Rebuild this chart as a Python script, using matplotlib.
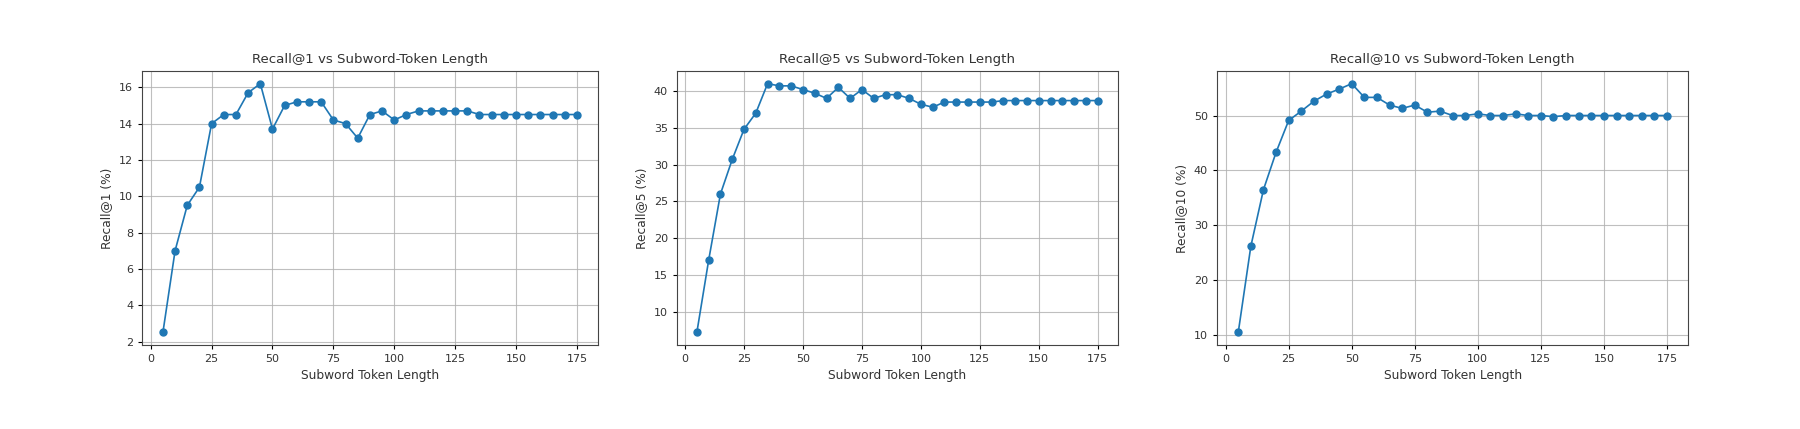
import matplotlib
matplotlib.use("Agg")
import matplotlib.pyplot as plt

token_lengths = list(range(5, 180, 5))

recall_at_1 = [2.5, 7.0, 9.5, 10.5, 14.0, 14.5, 14.5, 15.7, 16.2, 13.7,
               15.0, 15.2, 15.2, 15.2, 14.2, 14.0, 13.2, 14.5, 14.7, 14.2,
               14.5, 14.7, 14.7, 14.7, 14.7, 14.7, 14.5, 14.5, 14.5, 14.5,
               14.5, 14.5, 14.5, 14.5, 14.5]

recall_at_5 = [7.2, 17.0, 26.0, 30.7, 34.8, 37.0, 41.0, 40.7, 40.7, 40.2,
               39.7, 39.0, 40.5, 39.0, 40.2, 39.0, 39.5, 39.5, 39.0, 38.2,
               37.8, 38.5, 38.5, 38.5, 38.5, 38.5, 38.7, 38.7, 38.7, 38.7,
               38.7, 38.7, 38.7, 38.7, 38.7]

recall_at_10 = [10.5, 26.2, 36.5, 43.3, 49.1, 50.8, 52.6, 53.9, 54.8, 55.8,
                53.3, 53.3, 51.9, 51.3, 51.9, 50.6, 50.8, 50.0, 50.0, 50.3,
                50.0, 50.0, 50.3, 50.0, 50.0, 49.8, 50.0, 50.0, 50.0, 50.0,
                50.0, 50.0, 50.0, 50.0, 50.0]

titles = ["Recall@1 vs Subword-Token Length",
          "Recall@5 vs Subword-Token Length",
          "Recall@10 vs Subword-Token Length"]
ylabels = ["Recall@1 (%)", "Recall@5 (%)", "Recall@10 (%)"]
xlabel = "Subword Token Length"

fig = plt.figure(figsize=(18, 4.29), dpi=100)
positions = [
    [0.079, 0.196, 0.253, 0.638],
    [0.376, 0.196, 0.245, 0.638],
    [0.676, 0.196, 0.262, 0.638],
]
series = [recall_at_1, recall_at_5, recall_at_10]

for pos, ys, title, ylab in zip(positions, series, titles, ylabels):
    ax = fig.add_axes(pos)
    ax.plot(token_lengths, ys, marker="o", color="#1f77b4", linewidth=1.2, markersize=5)
    ax.set_title(title, fontsize=9.6, color="#333333")
    ax.set_xlabel(xlabel, fontsize=8.8, color="#333333")
    ax.set_ylabel(ylab, fontsize=8.8, color="#333333")
    ax.tick_params(labelsize=8, labelcolor="#333333", width=0.8, length=3)
    ax.grid(True, color="#b0b0b0", linewidth=0.8, alpha=0.8)
    for s in ax.spines.values():
        s.set_linewidth(0.8)
        s.set_color("#444444")

fig.savefig("out.png", dpi=100)
